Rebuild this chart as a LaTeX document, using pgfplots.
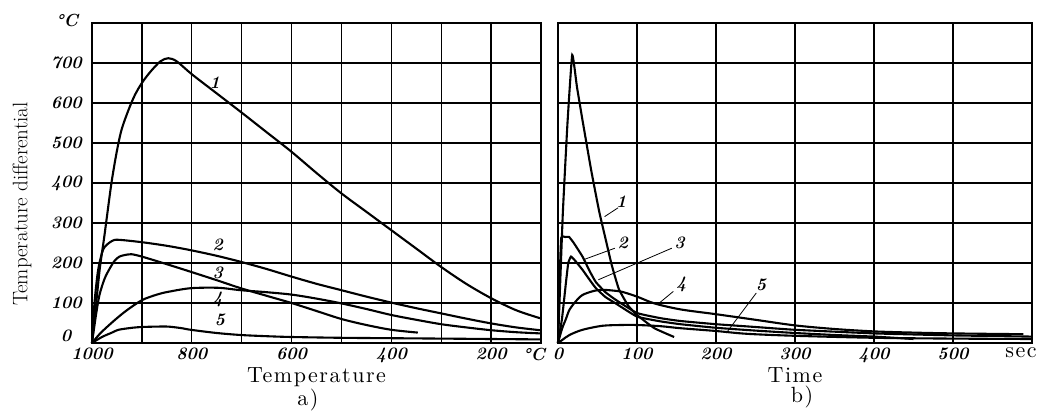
\documentclass[border=0pt]{standalone}
\usepackage{fontspec}
\usepackage{pgfplots}
\pgfplotsset{compat=1.18}
\newfontfamily\spacedfont[LetterSpace=7]{lmroman10-regular.otf}
\newcommand{\tickfont}{\fontsize{17.5}{20}\selectfont\bfseries\itshape}
\newcommand{\labfont}{\spacedfont\fontsize{22}{26}\selectfont}
\pgfplotsset{
  panel/.style={
    scale only axis, clip=false,
    ymin=0, ymax=800, ytick={0,100,...,800},
    grid=major,
    major grid style={black, line width=1.4pt},
    axis line style={black, line width=1.7pt},
    major tick length=0pt,
    tick label style={font=\tickfont},
    xticklabel style={anchor=north, inner sep=0pt, yshift=-5pt},
    yticklabel style={anchor=east, inner sep=0pt, xshift=-10pt},
    every axis x label/.style={at={(axis description cs:0.5,-0.122)}, anchor=base, font=\labfont},
  },
  curve/.style={black, line width=2.1pt, no marks},
}
\begin{document}
\begin{tikzpicture}[x=1pt,y=1pt]
\useasboundingbox (0,0) rectangle (1043,412);
% ---------------- left panel ----------------
\begin{axis}[panel,
  at={(92pt,69pt)}, anchor=south west, width=449pt, height=320pt,
  x dir=reverse, xmin=100, xmax=1000,
  xtick={100,200,...,1000},
  xticklabels={,200,,400,,600,,800,,1000},
  yticklabels={,100,200,300,400,500,600,700,},
  xlabel={Temperature},
  ylabel={Temperature differential},
  every axis y label/.style={at={(axis description cs:-0.156,0.434)}, rotate=90, anchor=center, font=\fontsize{21}{24}\selectfont},
]
\addplot[curve, smooth, tension=0.5] coordinates {
 (1000,0) (995,60) (991,107) (984,190) (976,260) (971,307) (961,400) (951,474)
 (941,532) (927,582) (914,620) (900,650) (883,678) (863,704) (847,712) (830,704)
 (800,672) (750,624) (700,576) (650,527) (600,478) (550,425) (500,374)
 (450,328) (400,282) (350,236) (300,190) (250,148) (200,112) (150,82) (102,62)};
\addplot[curve, smooth, tension=0.5] coordinates {
 (1000,0) (995,100) (988,180) (980,225) (974,241) (960,255) (947,258) (900,252)
 (850,243) (802,232) (750,218) (702,203) (650,185) (600,166) (550,148) (500,132)
 (450,116) (400,101) (350,87) (300,74) (250,61) (200,49) (150,39) (102,32)};
\addplot[curve, smooth, tension=0.5] coordinates {
 (1000,0) (992,70) (985,120) (975,160) (965,185) (955,205) (945,216) (930,221)
 (921,222) (900,216) (850,197) (802,178) (750,157) (702,137) (650,118) (600,100)
 (550,80) (500,60) (450,45) (400,33) (347,26)};
\addplot[curve, smooth, tension=0.5] coordinates {
 (1000,0) (985,22) (970,40) (950,62) (930,82) (900,107) (870,121) (847,128)
 (802,137) (747,138) (702,132) (650,127) (600,121) (550,111) (500,99) (450,85)
 (400,70) (350,58) (300,47) (250,39) (200,32) (150,27) (102,24)};
\addplot[curve, smooth, tension=0.5] coordinates {
 (1000,0) (980,15) (960,26) (947,33) (920,38) (900,40) (870,41) (847,41)
 (820,37) (802,33) (750,25) (702,20) (650,17) (600,15) (500,13) (400,12)
 (300,11) (200,10) (102,9)};
\node[font=\tickfont] at (axis cs:754,651) {1};
\node[font=\tickfont] at (axis cs:748,246) {2};
\node[font=\tickfont] at (axis cs:748,176) {3};
\node[font=\tickfont] at (axis cs:748,108) {4};
\node[font=\tickfont] at (axis cs:744,58) {5};
\end{axis}
% ---------------- right panel ----------------
\begin{axis}[panel,
  at={(558pt,69pt)}, anchor=south west, width=474pt, height=320pt,
  xmin=0, xmax=600,
  xtick={0,100,...,600},
  xticklabels={0,100,200,300,400,500,},
  yticklabels={},
  xlabel={Time},
]
\addplot[curve, smooth, tension=0.25] coordinates {
 (0,0) (6,320) (12,550) (18,720) (24,640) (31,557) (42,432) (52,330) (60,262)
 (68,195) (77,135) (89,93) (100,70) (122,37) (147,15)};
\addplot[curve, smooth, tension=0.25] coordinates {
 (0,0) (2,150) (4,262) (9,265) (14,265) (20,250) (31,216) (40,180) (48,152)
 (60,127) (73,108) (100,75) (130,62) (155,55) (200,47) (250,40) (300,33)
 (400,24) (500,19) (600,16)};
\addplot[curve, smooth, tension=0.25] coordinates {
 (0,0) (5,60) (10,150) (13,200) (16.5,216) (22,205) (31,183) (40,158) (48,137)
 (60,115) (73,99) (100,66) (130,54) (155,47) (200,38) (250,31) (300,25)
 (350,20) (400,16) (450,10)};
\addplot[curve, smooth, tension=0.5] coordinates {
 (0,0) (5,35) (10,60) (14.5,83) (22,103) (31,120) (45,130) (56,133) (70,131)
 (81,128) (100,116) (122,99) (155,84) (200,72) (250,58) (300,44) (350,35)
 (400,29) (450,26) (500,24) (589,22)};
\addplot[curve, smooth, tension=0.5] coordinates {
 (0,0) (5,7) (14.5,20) (31,33) (56,43) (80,45) (100,45) (130,42) (155,37)
 (200,30) (239,23) (300,18) (400,13) (500,11) (600,10)};
\draw[black, line width=0.8pt] (axis cs:59,316) -- (axis cs:76,338);
\draw[black, line width=0.8pt] (axis cs:32,208) -- (axis cs:72,237);
\draw[black, line width=0.8pt] (axis cs:51,158) -- (axis cs:144,237);
\draw[black, line width=0.8pt] (axis cs:127,98) -- (axis cs:146,129);
\draw[black, line width=0.8pt] (axis cs:213,25) -- (axis cs:251,125);
\node[font=\tickfont] at (axis cs:80,354) {1};
\node[font=\tickfont] at (axis cs:82,251) {2};
\node[font=\tickfont] at (axis cs:154,251) {3};
\node[font=\tickfont] at (axis cs:156,146) {4};
\node[font=\tickfont] at (axis cs:257,146) {5};
\end{axis}
% ---------------- extra text ----------------
\node[font=\tickfont] at (534,58) {\textdegree C};
\node[font=\tickfont] at (67,391) {\textdegree C};
\node[font=\tickfont] at (66,76) {0};
\node[font=\labfont, anchor=base] at (1021,54) {sec};
\node[font=\labfont, anchor=base] at (308,7) {a)};
\node[font=\labfont, anchor=base] at (802,10) {b)};
\end{tikzpicture}
\end{document}
